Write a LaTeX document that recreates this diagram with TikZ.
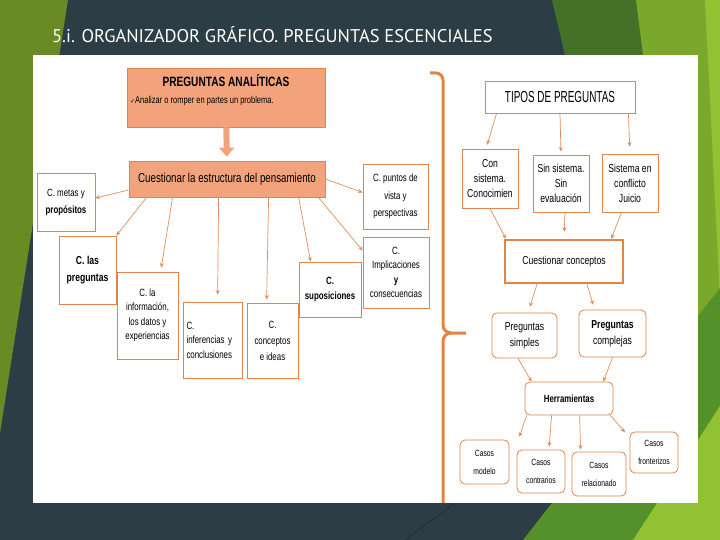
\documentclass[tikz,border=0pt]{standalone}
\usepackage{fontspec}
\setmainfont{Liberation Sans}
\newfontfamily\narrowfont[FakeStretch=0.75]{Liberation Sans}
\newfontfamily\tiposfont[FakeStretch=0.62]{Liberation Sans}
\newfontfamily\titlefont{PT Sans}
\newfontfamily\checkfont{DejaVu Sans}
\usepackage{tikz}
\usetikzlibrary{arrows.meta}
\definecolor{ogslate}{RGB}{45,61,69}
\definecolor{ogolive}{RGB}{106,138,36}
\definecolor{ogdkgreen}{RGB}{68,112,40}
\definecolor{oglime}{RGB}{122,168,42}
\definecolor{ogbright}{RGB}{145,194,52}
\definecolor{ogmid}{RGB}{84,145,42}
\definecolor{ogline}{RGB}{32,46,54}
\definecolor{ogsalmon}{RGB}{243,163,124}
\definecolor{ogorange}{RGB}{226,132,72}
\definecolor{ogarrow}{RGB}{222,142,92}
\tikzset{
  box/.style={draw=ogorange, line width=0.8pt, fill=white, align=center,
              inner sep=1pt, font=\narrowfont\fontsize{10.5}{15.5}\selectfont},
  salbox/.style={box, fill=ogsalmon, draw=ogorange},
  rbox/.style={box, rounded corners=5pt, font=\narrowfont\fontsize{11.5}{16}\selectfont},
  casebox/.style={rbox, font=\narrowfont\fontsize{9}{18}\selectfont},
  arr/.style={-{Stealth[length=4.5pt,width=4pt]}, line width=0.7pt, draw=ogarrow},
  bigarr/.style={-{Triangle[length=9pt,width=15pt]}, line width=6pt, draw=ogsalmon},
  brace/.style={draw=ogorange, line width=3pt},
  ttl/.style={font=\titlefont\fontsize{18.4}{21}\selectfont, text=white, inner sep=0pt},
}

\begin{document}
\begin{tikzpicture}[x=1pt, y=-1pt]
\useasboundingbox (0,0) rectangle (720,540);
% background and panel
\fill[ogslate] (0,0) rectangle (720,540);
\fill[ogolive] (0,0) -- (68,0) -- (0,433) -- cycle;
\fill[ogdkgreen] (552,0) -- (720,0) -- (720,540) -- (679,540) -- cycle;
\fill[oglime] (636,0) -- (720,0) -- (720,540) -- (705,540) -- cycle;
\fill[ogbright] (705,0) -- (720,0) -- (720,300) -- cycle;
\fill[ogmid] (523,540) -- (720,288) -- (720,540) -- cycle;
\fill[ogbright] (633,540) -- (720,406) -- (720,540) -- cycle;
\draw[ogline, line width=0.6pt] (405,540) -- (455,503);
\fill[white] (33,55) rectangle (698,503);
\node[ttl, anchor=base west] (titulo) at (52,43) {5.i. ORGANIZADOR GRÁFICO. PREGUNTAS ESCENCIALES};

% preguntas analiticas
\node[salbox, minimum width=198pt, minimum height=59pt] (pa) at (226,97.5) {};
\node[font=\narrowfont\bfseries\fontsize{13.5}{16}\selectfont, anchor=base] (patit) at (226,87) {PREGUNTAS ANALÍTICAS};
\node[font=\narrowfont\fontsize{10}{12}\selectfont, anchor=base west, inner sep=0pt] (pasub) at (130,104)
  {{\checkfont\fontsize{6}{6}\selectfont ✓}Analizar o romper en partes un problema.};
\node[salbox, minimum width=196pt, minimum height=36pt, font=\narrowfont\fontsize{13}{15}\selectfont] (ce) at (227,179) {Cuestionar la estructura del pensamiento};
\draw[bigarr, shorten >=4pt] (pa) -- (ce);

\node[box, minimum width=58pt, minimum height=58pt, font=\narrowfont\fontsize{10.5}{17}\selectfont] (metas) at (66,202) {C. metas y\\\textbf{propósitos}};
\node[box, minimum width=65pt, minimum height=65pt, font=\narrowfont\fontsize{10.5}{17.5}\selectfont] (puntos) at (395.5,196.5) {C. puntos de\\vista y\\perspectivas};
\node[box, minimum width=57pt, minimum height=68pt, font=\narrowfont\bfseries\fontsize{11.5}{17}\selectfont] (preg) at (87.5,270) {C. las\\preguntas};
\node[box, minimum width=61pt, minimum height=87pt, font=\narrowfont\fontsize{10.5}{14.5}\selectfont] (info) at (147.5,315.5) {C. la\\información,\\los datos y\\experiencias};
\node[box, minimum width=59pt, minimum height=76pt, text width=52pt, align=left, inner xsep=3.5pt, font=\narrowfont\fontsize{10.5}{14.5}\selectfont] (infer) at (212.5,340) {C.\\inferencias y\\conclusiones};
\node[box, minimum width=51pt, minimum height=75pt, font=\narrowfont\fontsize{10.5}{16}\selectfont] (concep) at (272.5,340.5) {C.\\conceptos\\e ideas};
\node[box, minimum width=62pt, minimum height=55pt, font=\narrowfont\bfseries\fontsize{10.5}{15}\selectfont] (supos) at (330,289.5) {C.\\suposiciones};
\node[box, minimum width=66pt, minimum height=71pt, font=\narrowfont\fontsize{10.5}{14.5}\selectfont] (impli) at (396,272.5) {C.\\Implicaciones\\\textbf{y}\\consecuencias};

\draw[arr] ([yshift=-11pt]ce.west) -- ([yshift=4pt]metas.east);
\draw[arr] (ce.east) -- ([yshift=4pt]puntos.west);
\draw[arr] ([xshift=18pt]ce.south west) -- (preg.north east);
\draw[arr, shorten >=4pt] ([xshift=44pt]ce.south west) -- ([xshift=44pt]info.north west);
\draw[arr, shorten >=7pt] ([xshift=90pt]ce.south west) -- ([xshift=35pt]infer.north west);
\draw[arr, shorten >=3pt] ([xshift=140pt]ce.south west) -- ([xshift=20pt]concep.north west);
\draw[arr] ([xshift=170pt]ce.south west) -- ([xshift=12pt]supos.north west);
\draw[arr] ([xshift=-7pt]ce.south east) -- ([yshift=-14pt]impli.north west);

% llave
\draw[brace] (430,73) -- (436,73) to[out=0,in=90] (443,80) -- (443,325) to[out=-90,in=180] (451,333) -- (466,333);
\draw[brace] (451,333) to[out=180,in=90] (443,341) -- (443,503);

% tipos de preguntas
\node[box, minimum width=150pt, minimum height=32pt, font=\tiposfont\fontsize{16}{18}\selectfont] (tipos) at (560,97) {TIPOS DE PREGUNTAS};
\node[box, minimum width=56pt, minimum height=59pt, font=\narrowfont\fontsize{11.5}{15}\selectfont] (con) at (490,178.5) {Con\\sistema.\\Conocimien};
\node[box, minimum width=56pt, minimum height=57pt, font=\narrowfont\fontsize{11.5}{15}\selectfont] (sin) at (561,183.5) {Sin sistema.\\Sin\\evaluación};
\node[box, minimum width=56pt, minimum height=58pt, font=\narrowfont\fontsize{11.5}{15}\selectfont] (confl) at (630,183) {Sistema en\\conflicto\\Juicio};
\node[box, line width=2.5pt, minimum width=118pt, minimum height=43pt, font=\narrowfont\fontsize{11.5}{15}\selectfont] (cc) at (564,261.5) {Cuestionar conceptos};
\node[rbox, minimum width=65pt, minimum height=45pt] (simp) at (524.5,335.5) {Preguntas\\simples};
\node[rbox, minimum width=67pt, minimum height=47pt] (comp) at (612.5,333.5) {\textbf{Preguntas}\\complejas};
\node[rbox, minimum width=88pt, minimum height=33pt, font=\narrowfont\bfseries\fontsize{10.5}{14}\selectfont] (herr) at (569,398.5) {Herramientas};
\node[casebox, minimum width=49pt, minimum height=44pt] (modelo) at (484.5,462) {Casos\\modelo};
\node[casebox, minimum width=48pt, minimum height=43pt] (contra) at (541,471.5) {Casos\\contrarios};
\node[casebox, minimum width=54pt, minimum height=44pt] (relac) at (599,474) {Casos\\relacionado};
\node[casebox, minimum width=48pt, minimum height=41pt] (fronte) at (654,452.5) {Casos\\fronterizos};

\draw[arr, shorten >=4pt] ([xshift=12pt]tipos.south west) -- ([xshift=-4pt]con.north);
\draw[arr, shorten >=3pt] (tipos.south) -- (sin.north);
\draw[arr, shorten >=7pt] ([xshift=-7pt]tipos.south east) -- (confl.north);
\draw[arr] (con.south) -- ([xshift=2pt]cc.north west);
\draw[arr, shorten >=7pt] ([xshift=4pt]sin.south) -- (cc.north);
\draw[arr] ([xshift=20pt]confl.south west) -- ([xshift=-13pt]cc.north east);
\draw[arr, shorten >=6pt] ([xshift=-27pt]cc.south) -- ([xshift=3.5pt]simp.north);
\draw[arr, shorten >=5pt] ([xshift=23pt]cc.south) -- ([xshift=16pt]comp.north west);
\draw[arr] ([xshift=-6.5pt]simp.south) -- ([xshift=7pt]herr.north west);
\draw[arr] (comp.south) -- ([xshift=-10pt]herr.north east);
\draw[arr, shorten >=3pt] ([xshift=2pt]herr.south west) -- ([xshift=9pt]modelo.north east);
\draw[arr, shorten >=3pt] ([xshift=27pt]herr.south west) -- ([xshift=8pt]contra.north);
\draw[arr, shorten >=2pt] ([xshift=55pt]herr.south west) -- ([xshift=9pt]relac.north west);
\draw[arr, shorten >=7pt] ([xshift=-3pt]herr.south east) -- ([yshift=-6pt]fronte.north west);
\end{tikzpicture}
\end{document}
